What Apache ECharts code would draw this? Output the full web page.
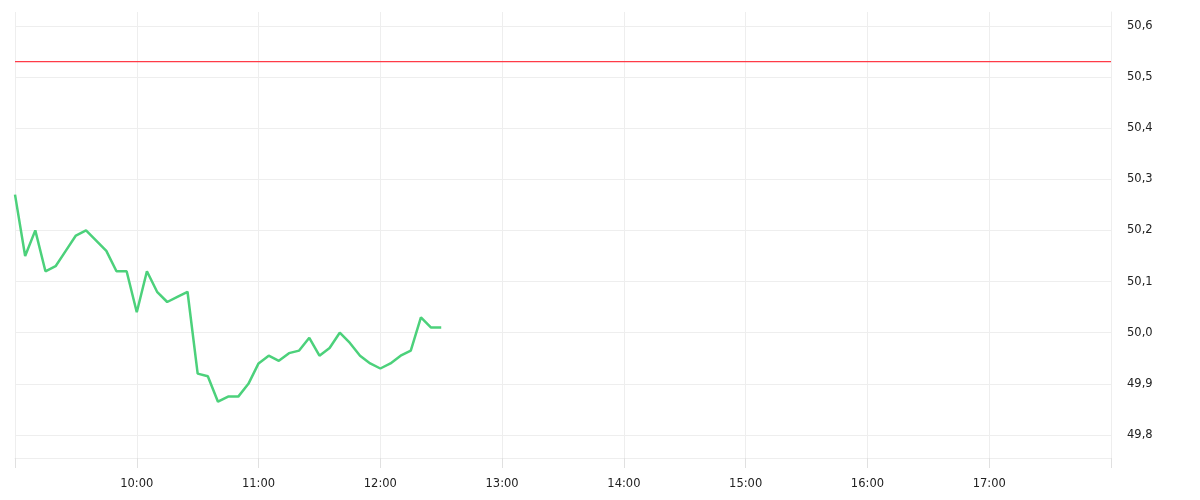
<!DOCTYPE html>
<html>
<head>
<meta charset="utf-8">
<script src="https://cdn.jsdelivr.net/npm/echarts@6/dist/echarts.min.js"></script>
<style>
  html, body { margin: 0; padding: 0; background: #fff; }
  #chart { width: 1200px; height: 500px; }
</style>
</head>
<body>
<div id="chart"></div>
<script>
'use strict';

// ── Data ──────────────────────────────────────────────────────────────────────
const times = [
  '09:00', '09:05', '09:10', '09:15', '09:20', '09:25', '09:30', '09:35', '09:40', '09:45',
  '09:50', '09:55', '10:00', '10:05', '10:10', '10:15', '10:20', '10:25', '10:30', '10:35',
  '10:40', '10:45', '10:50', '10:55', '11:00', '11:05', '11:10', '11:15', '11:20', '11:25',
  '11:30', '11:35', '11:40', '11:45', '11:50', '11:55', '12:00', '12:05', '12:10', '12:15',
  '12:20', '12:25', '12:30'
];
const prices = [
  50.27, 50.15, 50.20, 50.12, 50.13, 50.16, 50.19, 50.20, 50.18, 50.16,
  50.12, 50.12, 50.04, 50.12, 50.08, 50.06, 50.07, 50.08, 49.92, 49.915,
  49.865, 49.875, 49.875, 49.90, 49.94, 49.955, 49.945, 49.96, 49.965, 49.99,
  49.955, 49.97, 50.00, 49.98, 49.955, 49.94, 49.93, 49.94, 49.955, 49.965,
  50.03, 50.01, 50.01
];
const prevClose = 50.53;
const sessionStart = '09:00';
const sessionEnd   = '18:00';

// ── Helpers ───────────────────────────────────────────────────────────────────
const toMin = t => { const [h, m] = t.split(':').map(Number); return h * 60 + m; };
const fmtMin = v => {
  const h = Math.floor(v / 60), m = v % 60;
  return `${String(h).padStart(2, '0')}:${String(m).padStart(2, '0')}`;
};

const gridColor = '#eeeeee';
const redLine   = '#ff3b47';
const textStyle = { color: '#222', fontFamily: 'DejaVu Sans', fontSize: 11.5 };

// ── Chart ─────────────────────────────────────────────────────────────────────
const chart = echarts.init(document.getElementById('chart'), null, { renderer: 'canvas' });

chart.setOption({
  animation: false,
  backgroundColor: '#fff',
  grid: { left: 15, right: 89, top: 12, bottom: 42 },
  xAxis: {
    type:     'value',
    min:      toMin(sessionStart),
    max:      toMin(sessionEnd),
    interval: 60,
    axisLine:  { show: true, lineStyle: { color: gridColor } },
    axisTick:  { show: true, inside: false, length: 10, lineStyle: { color: '#e0e0e0', width: 1 } },
    splitLine: { show: true, lineStyle: { color: gridColor } },
    axisLabel: {
      ...textStyle,
      margin: 20,
      showMinLabel: true,
      showMaxLabel: true,
      // session edges keep their ticks but get no label
      formatter: v => (v === toMin(sessionStart) || v === toMin(sessionEnd)) ? '' : fmtMin(v),
    },
  },
  yAxis: {
    type:     'value',
    position: 'right',
    min:      49.755,
    max:      50.627,
    splitNumber: 9,
    scale:    true,
    axisLine:  { show: true, lineStyle: { color: gridColor } },
    axisTick:  { show: false },
    splitLine: { show: true, showMaxLine: false, lineStyle: { color: gridColor } },
    axisLabel: {
      ...textStyle,
      margin: 16,
      showMinLabel: false,
      showMaxLabel: false,
      formatter: v => v.toFixed(1).replace('.', ','),
    },
  },
  series: [
    {
      // previous close reference line across the whole session
      type:   'line',
      data:   [[toMin(sessionStart), prevClose], [toMin(sessionEnd), prevClose]],
      symbol: 'none',
      silent: true,
      z: 1,
      lineStyle: { color: redLine, width: 1.3 },
      itemStyle: { color: redLine },
    },
    {
      type:   'line',
      data:   times.map((t, i) => [toMin(t), prices[i]]),
      symbol: 'none',
      z: 2,
      lineStyle: { color: '#4cd17b', width: 2.5 },
      itemStyle: { color: '#4cd17b' },
    },
  ],
});
</script>
</body>
</html>
